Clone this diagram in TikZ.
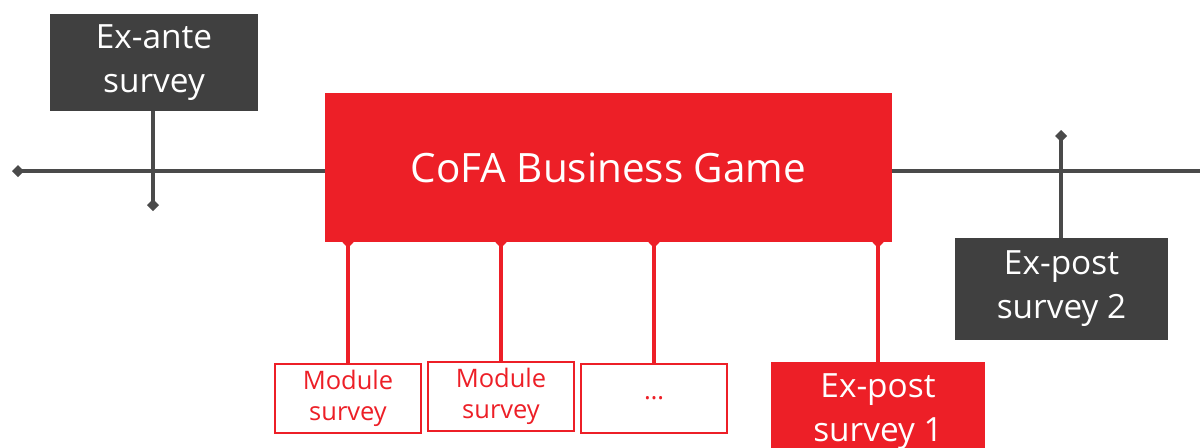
\documentclass[tikz,border=0pt]{standalone}
\usepackage{fontspec}
\setmainfont{Open Sans}
\usetikzlibrary{arrows.meta,backgrounds}

\definecolor{cofared}{HTML}{ED1F27}
\definecolor{darkbox}{HTML}{404040}
\definecolor{tline}{HTML}{4A4A4A}

\tikzset{
  darksurvey/.style={fill=darkbox, text=white, align=center, inner sep=0pt,
    minimum width=4.2cm, minimum height=2cm, font=\fontsize{19}{25}\selectfont},
  redsurvey/.style={fill=cofared, text=white, align=center, inner sep=0pt,
    minimum width=4.28cm, minimum height=2cm, font=\fontsize{19}{25}\selectfont},
  modbox/.style={draw=cofared, line width=1pt, fill=white, text=cofared, align=center,
    inner sep=0pt, minimum width=2.92cm, minimum height=1.38cm,
    font=\fontsize{14.5}{18}\selectfont},
  timeline/.style={draw=tline, line width=2pt},
  redlink/.style={draw=cofared, line width=2pt, {Diamond[length=0.22cm,width=0.22cm]}-, shorten <=-0.11cm}
}

\begin{document}
\begin{tikzpicture}[x=0.02cm, y=-0.02cm]

                \clip (0,0) rectangle (1200,447);

                \node[darksurvey, minimum width=4.16cm, minimum height=1.94cm] (exante) at (154,62.5) {Ex-ante\\survey};
                \node[fill=cofared, text=white, inner sep=0pt, minimum width=11.34cm, minimum height=2.98cm,
                      font=\fontsize{23}{28}\selectfont] (game) at (608.5,167.5) {CoFA Business Game};

                \node[modbox] (mod1) at (348,398.5) {Module\\survey};
                \node[modbox] (mod2) at (501,396.5) {Module\\survey};
                \node[modbox] (mod3) at (654,398.5) {\dots};
                \node[redsurvey] (post1) at (878,412) {Ex-post\\survey 1};
                \node[darksurvey, minimum width=4.26cm, minimum height=2.04cm] (post2) at (1061.5,289) {Ex-post\\survey 2};

                \coordinate (tstart) at (12,171);
                \coordinate (tend) at (1205,171);
                \coordinate (antemark) at (153,211);
                \coordinate (postmark) at (1061,130);

                \begin{scope}[on background layer]
                \draw[timeline, {Diamond[length=0.24cm,width=0.24cm]}-] (tstart) -- (tend);
                \draw[timeline, -{Diamond[length=0.24cm,width=0.24cm]}] (exante.south -| antemark) -- (antemark);
                \draw[timeline, -{Diamond[length=0.24cm,width=0.24cm]}] (post2.north -| postmark) -- (postmark);

                \draw[redlink] (game.south -| mod1.north) -- (mod1.north);
                \draw[redlink] (game.south -| mod2.north) -- (mod2.north);
                \draw[redlink] (game.south -| mod3.north) -- (mod3.north);
                \draw[redlink] (game.south -| post1.north) -- (post1.north);
                \end{scope}

            \end{tikzpicture}
\end{document}
